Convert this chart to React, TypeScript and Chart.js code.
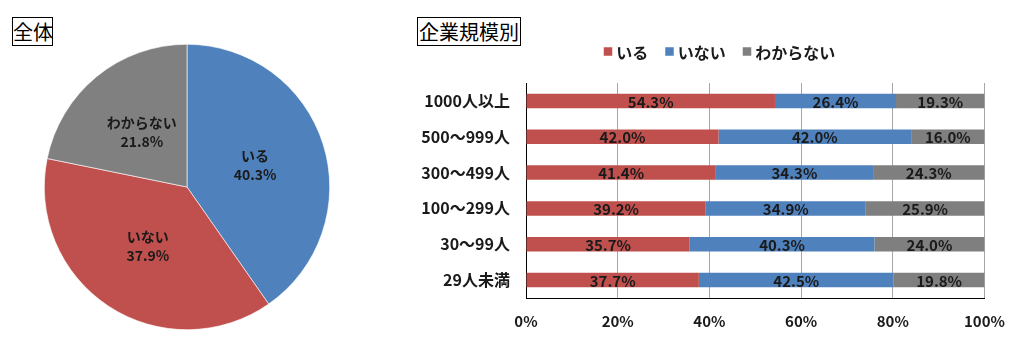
import React, { useEffect, useRef } from "react";
import { Chart, registerables } from "chart.js";

Chart.register(...registerables);

const FONT = '"Noto Sans CJK JP", "Noto Sans", sans-serif';

// ---- data ----
const pieLabels = ["いる", "いない", "わからない"];
const pieValues = [40.3, 37.9, 21.8];
const pieColors = ["#4F81BD", "#C0504D", "#808080"];

const categories = ["1000人以上", "500〜999人", "300〜499人", "100〜299人", "30〜99人", "29人未満"];
const seriesNames = ["いる", "いない", "わからない"];
const iruValues = [54.3, 42.0, 41.4, 39.2, 35.7, 37.7];
const inaiValues = [26.4, 42.0, 34.3, 34.9, 40.3, 42.5];
const wakaranaiValues = [19.3, 16.0, 24.3, 25.9, 24.0, 19.8];
const barColors = ["#C0504D", "#4F81BD", "#7F7F7F"];
const xTickStep = 20;
const xMax = 100;

const pieLabelPlugin = {
  id: "pieLabelPlugin",
  afterDatasetsDraw(chart: any) {
    const ctx = chart.ctx;
    const meta = chart.getDatasetMeta(0);
    ctx.save();
    ctx.fillStyle = "#1a1a1a";
    ctx.textAlign = "center";
    ctx.textBaseline = "middle";
    ctx.font = `bold 14px ${FONT}`;
    meta.data.forEach((arc: any, i: number) => {
      const p = arc.tooltipPosition();
      ctx.fillText(pieLabels[i], p.x, p.y - 9.5);
      ctx.fillText(pieValues[i].toFixed(1) + "%", p.x, p.y + 9.5);
    });
    ctx.restore();
  },
};

const barLabelPlugin = {
  id: "barLabelPlugin",
  afterDatasetsDraw(chart: any) {
    const ctx = chart.ctx;
    ctx.save();
    ctx.fillStyle = "#1a1a1a";
    ctx.textAlign = "center";
    ctx.textBaseline = "middle";
    ctx.font = `bold 15px ${FONT}`;
    chart.data.datasets.forEach((ds: any, di: number) => {
      const meta = chart.getDatasetMeta(di);
      meta.data.forEach((el: any, i: number) => {
        const cx = (el.x + el.base) / 2;
        ctx.fillText(Number(ds.data[i]).toFixed(1) + "%", cx, el.y + 1);
      });
    });
    ctx.restore();
  },
};

const customLegendPlugin = {
  id: "customLegendPlugin",
  afterDraw(chart: any) {
    const ctx = chart.ctx;
    ctx.save();
    ctx.font = `bold 16px ${FONT}`;
    ctx.textBaseline = "middle";
    ctx.textAlign = "left";
    const box = 8.5;
    const gapText = 4;
    const gapItem = 17;
    const widths = seriesNames.map((n) => ctx.measureText(n).width);
    const total =
      widths.reduce((a: number, w: number) => a + box + gapText + w, 0) + gapItem * (seriesNames.length - 1);
    const centerX = 319.5;
    const y = 51.5;
    let x = centerX - total / 2;
    seriesNames.forEach((n, i) => {
      ctx.fillStyle = barColors[i];
      ctx.fillRect(x, y - box / 2, box, box);
      x += box + gapText;
      ctx.fillStyle = "#1a1a1a";
      ctx.fillText(n, x, y + 1);
      x += widths[i] + gapItem;
    });
    ctx.restore();
  },
};

export default function App() {
  const pieRef = useRef<HTMLCanvasElement>(null);
  const barRef = useRef<HTMLCanvasElement>(null);

  useEffect(() => {
    const pie = new Chart(pieRef.current as HTMLCanvasElement, {
      type: "pie",
      data: {
        labels: pieLabels,
        datasets: [
          {
            data: pieValues,
            backgroundColor: pieColors,
            borderColor: "#ffffff",
            borderWidth: 0.6,
          },
        ],
      },
      options: {
        animation: false,
        responsive: false,
        devicePixelRatio: 1,
        layout: { padding: 7 },
        plugins: { legend: { display: false }, tooltip: { enabled: false } },
      },
      plugins: [pieLabelPlugin],
    });

    const bar = new Chart(barRef.current as HTMLCanvasElement, {
      type: "bar",
      data: {
        labels: categories,
        datasets: [
          { label: seriesNames[0], data: iruValues, backgroundColor: barColors[0] },
          { label: seriesNames[1], data: inaiValues, backgroundColor: barColors[1] },
          { label: seriesNames[2], data: wakaranaiValues, backgroundColor: barColors[2] },
        ],
      },
      options: {
        animation: false,
        responsive: false,
        devicePixelRatio: 1,
        indexAxis: "y",
        layout: { padding: { top: 83, bottom: 14, left: 0, right: 33 } },
        datasets: { bar: { categoryPercentage: 1, barPercentage: 0.405 } },
        scales: {
          x: {
            stacked: true,
            min: 0,
            max: xMax,
            grid: { color: "#A6A6A6", lineWidth: 1, drawTicks: false },
            border: { display: true, color: "#000000", width: 1 },
            ticks: {
              stepSize: xTickStep,
              padding: 14,
              color: "#1a1a1a",
              font: { family: FONT, size: 15, weight: "bold" },
              callback: (v: any) => v + "%",
            },
            afterFit: (scale: any) => {
              scale.height = 40;
            },
          },
          y: {
            stacked: true,
            grid: { display: false, drawTicks: false },
            border: { display: true, color: "#000000", width: 1 },
            ticks: {
              padding: 16,
              color: "#1a1a1a",
              font: { family: FONT, size: 16, weight: "bold" },
            },
            afterFit: (scale: any) => {
              scale.width = 126;
            },
          },
        },
        plugins: { legend: { display: false }, tooltip: { enabled: false } },
      },
      plugins: [barLabelPlugin, customLegendPlugin],
    });

    return () => {
      pie.destroy();
      bar.destroy();
    };
  }, []);

  const boxStyle: React.CSSProperties = {
    position: "absolute",
    top: 17,
    height: 29,
    boxSizing: "border-box",
    border: "1px solid #000",
    fontFamily: FONT,
    fontSize: 20,
    lineHeight: "27px",
    textAlign: "center",
    color: "#000",
    background: "#fff",
    whiteSpace: "nowrap",
  };

  return (
    <div style={{ position: "absolute", left: 0, top: 0, width: 1019, height: 352, background: "#fff" }}>
      <div style={{ ...boxStyle, left: 12, width: 41 }}>全体</div>
      <div style={{ ...boxStyle, left: 417, width: 104 }}>企業規模別</div>
      <canvas
        ref={pieRef}
        width={300}
        height={300}
        style={{ position: "absolute", left: 37, top: 37, width: 300, height: 300 }}
      />
      <canvas
        ref={barRef}
        width={619}
        height={352}
        style={{ position: "absolute", left: 400, top: 0, width: 619, height: 352 }}
      />
    </div>
  );
}
